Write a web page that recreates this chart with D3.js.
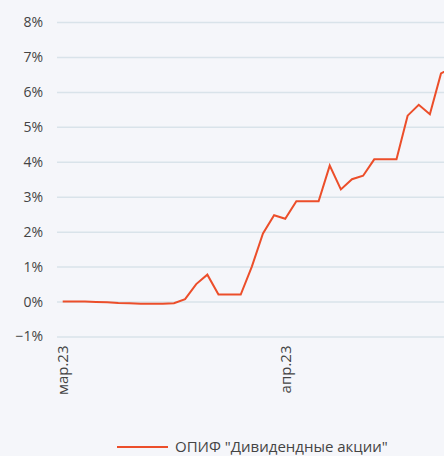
<!DOCTYPE html>
<html>
<head>
<meta charset="utf-8">
<script src="https://cdn.jsdelivr.net/npm/d3@7"></script>
<style>
  html, body { margin: 0; padding: 0; background: #f5f6fa; overflow: hidden; }
  #chart { width: 444px; height: 456px; }
  text { font-family: "Open Sans", sans-serif; fill: #444; }
</style>
</head>
<body>
<div id="chart"></div>
<script>
// Данные графика (доходность, %)
const seriesName = 'ОПИФ "Дивидендные акции"';
const values = [
  0, 0, 0, -0.01, -0.02, -0.04, -0.05, -0.06, -0.06, -0.06,
  -0.05, 0.07, 0.5, 0.77, 0.2, 0.2, 0.2, 1.0, 1.95, 2.47,
  2.37, 2.87, 2.87, 2.87, 3.89, 3.21, 3.5, 3.6, 4.07, 4.07,
  4.07, 5.32, 5.63, 5.36, 6.53, 6.7
];
const xTickIndex = [0, 20];
const xTickLabels = ["мар.23", "апр.23"];
const yTicks = [-1, 0, 1, 2, 3, 4, 5, 6, 7, 8];

const width = 444;
const height = 456;
const margin = { top: 22, right: 0, bottom: 120, left: 57 };

const svg = d3
  .select("#chart")
  .append("svg")
  .attr("width", width)
  .attr("height", height);

const x = d3.scaleLinear().domain([0, 34]).range([62.7, 441]);
const y = d3.scaleLinear().domain([-1, 8]).range([336.5, 22]);

// Сетка и подписи по оси Y
const yAxis = svg
  .append("g")
  .attr("transform", `translate(${margin.left},0)`)
  .call(
    d3.axisLeft(y)
      .tickValues(yTicks)
      .tickSize(-(width - margin.left))
      .tickPadding(14)
      .tickFormat((d) => (d < 0 ? "\u2212" + Math.abs(d) : d) + "%")
  );
yAxis.select(".domain").remove();
yAxis.selectAll(".tick line").attr("stroke", "#d9e3ea").attr("stroke-width", 1.5);
yAxis.selectAll(".tick text").style("font-size", "14px").attr("fill", "#444");

// Подписи по оси X
const xAxis = svg
  .append("g")
  .attr("transform", `translate(0,${y(-1) + 9})`)
  .call(
    d3.axisBottom(x)
      .tickValues(xTickIndex)
      .tickSize(0)
      .tickFormat((d, i) => xTickLabels[i])
  );
xAxis.select(".domain").remove();
xAxis
  .selectAll(".tick text")
  .style("font-size", "15px")
  .attr("fill", "#444")
  .attr("text-anchor", "end")
  .attr("transform", "rotate(-90)")
  .attr("x", 0)
  .attr("y", 0)
  .attr("dy", "0.35em");

// Линия
const line = d3
  .line()
  .x((d, i) => x(i))
  .y((d) => y(d));

svg
  .append("path")
  .datum(values)
  .attr("d", line)
  .attr("fill", "none")
  .attr("stroke", "#ec4e2a")
  .attr("stroke-width", 2)
  .attr("stroke-linejoin", "miter");

// Легенда
const legend = svg.append("g").attr("transform", "translate(117,447)");
legend
  .append("line")
  .attr("x1", 0)
  .attr("x2", 51)
  .attr("stroke", "#ec4e2a")
  .attr("stroke-width", 2);
legend
  .append("text")
  .attr("x", 58)
  .attr("y", 5)
  .style("font-size", "15px")
  .text(seriesName);
</script>
</body>
</html>
